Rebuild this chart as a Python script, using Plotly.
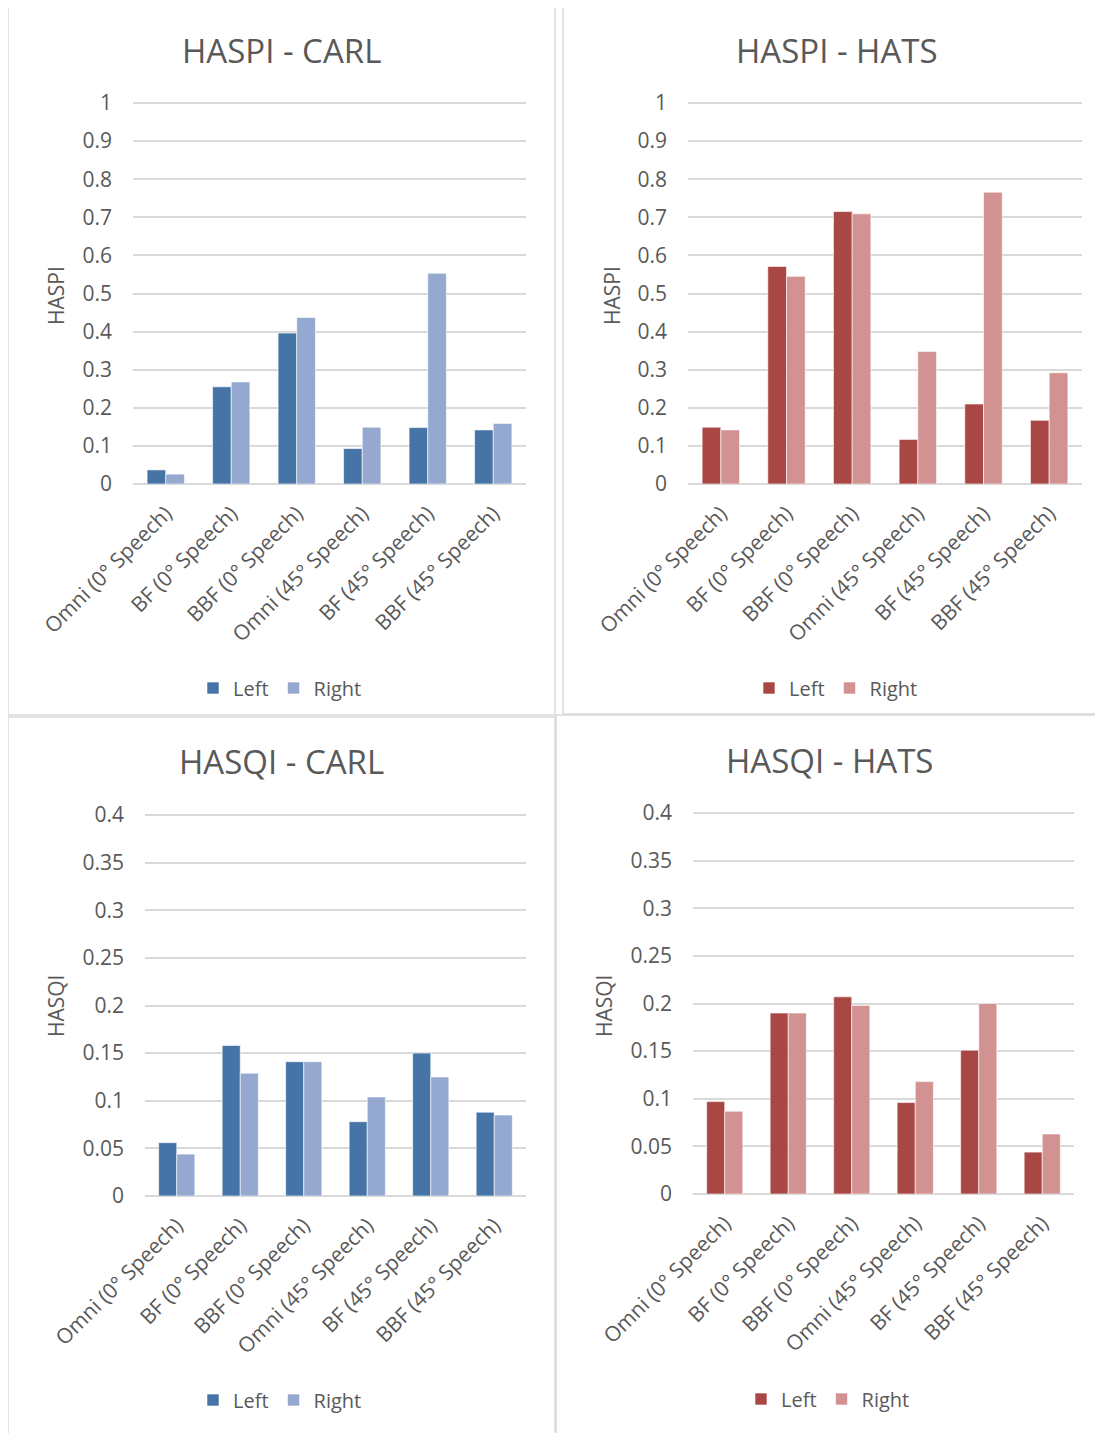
import plotly.graph_objects as go

categories = ["Omni (0° Speech)", "BF (0° Speech)", "BBF (0° Speech)",
              "Omni (45° Speech)", "BF (45° Speech)", "BBF (45° Speech)"]

haspi_carl_left = [0.037, 0.255, 0.396, 0.093, 0.148, 0.142]
haspi_carl_right = [0.026, 0.268, 0.437, 0.149, 0.553, 0.159]
haspi_hats_left = [0.149, 0.571, 0.715, 0.117, 0.210, 0.167]
haspi_hats_right = [0.142, 0.545, 0.709, 0.348, 0.766, 0.292]
hasqi_carl_left = [0.056, 0.158, 0.141, 0.078, 0.150, 0.088]
hasqi_carl_right = [0.044, 0.129, 0.141, 0.104, 0.125, 0.085]
hasqi_hats_left = [0.097, 0.190, 0.207, 0.096, 0.151, 0.044]
hasqi_hats_right = [0.087, 0.190, 0.198, 0.118, 0.200, 0.063]

haspi_ticks = [0, 0.1, 0.2, 0.3, 0.4, 0.5, 0.6, 0.7, 0.8, 0.9, 1]
haspi_ticktext = ["0", "0.1", "0.2", "0.3", "0.4", "0.5", "0.6", "0.7", "0.8", "0.9", "1"]
hasqi_ticks = [0, 0.05, 0.1, 0.15, 0.2, 0.25, 0.3, 0.35, 0.4]
hasqi_ticktext = ["0", "0.05", "0.1", "0.15", "0.2", "0.25", "0.3", "0.35", "0.4"]

BLUE_L, BLUE_R = "#4674a6", "#95a9d0"
RED_L, RED_R = "#a94745", "#d29291"
TXT = "#595959"
GRID = "#d9d9d9"
FONT = "Open Sans"

W, H = 1103, 1433
OFF = 8  # page body margin


def px(x):
    return (x - OFF) / W


def py(y):
    return 1 - (y - OFF) / H


# top of each value axis is extended by a few pixels so the top gridline is drawn
PAD = 4
panels = [
    dict(title="HASPI - CARL", ytitle="HASPI", left=haspi_carl_left, right=haspi_carl_right,
         cl=(BLUE_L, BLUE_R), xd=(133, 526), y0=484, y1=103, vmax=1.0,
         tv=haspi_ticks, tt=haspi_ticktext, tpos=(281, 50), ypos=(56, 296),
         leg=(280, 688), box=(8, 5, 555, 715)),
    dict(title="HASPI - HATS", ytitle="HASPI", left=haspi_hats_left, right=haspi_hats_right,
         cl=(RED_L, RED_R), xd=(688, 1082), y0=484, y1=103, vmax=1.0,
         tv=haspi_ticks, tt=haspi_ticktext, tpos=(837, 50), ypos=(612, 296),
         leg=(836, 688), box=(563, 5, 1112, 714)),
    dict(title="HASQI - CARL", ytitle="HASQI", left=hasqi_carl_left, right=hasqi_carl_right,
         cl=(BLUE_L, BLUE_R), xd=(145, 526), y0=1196, y1=815, vmax=0.4,
         tv=hasqi_ticks, tt=hasqi_ticktext, tpos=(281, 761), ypos=(56, 1006),
         leg=(280, 1400), box=(8, 717, 555, 1445)),
    dict(title="HASQI - HATS", ytitle="HASQI", left=hasqi_hats_left, right=hasqi_hats_right,
         cl=(RED_L, RED_R), xd=(693, 1074), y0=1194, y1=813, vmax=0.4,
         tv=hasqi_ticks, tt=hasqi_ticktext, tpos=(829, 760), ypos=(604, 1006),
         leg=(828, 1399), box=(556, 715, 1112, 1445)),
]

fig = go.Figure()
annotations = []
shapes = []
layout = {}

for i, p in enumerate(panels, start=1):
    xa = "x" if i == 1 else f"x{i}"
    ya = "y" if i == 1 else f"y{i}"
    lg = "legend" if i == 1 else f"legend{i}"
    for name, vals, col in (("Left", p["left"], p["cl"][0]), ("Right", p["right"], p["cl"][1])):
        fig.add_trace(go.Bar(
            x=categories, y=vals, name=name, xaxis=xa, yaxis=ya, legend=lg,
            marker=dict(color=col, line=dict(color="rgba(255,255,255,0.6)", width=1)),
        ))
    xkey = "xaxis" if i == 1 else f"xaxis{i}"
    ykey = "yaxis" if i == 1 else f"yaxis{i}"
    span = p["y0"] - p["y1"]
    rmax = p["vmax"] * (span + PAD) / span
    layout[xkey] = dict(
        domain=[px(p["xd"][0]), px(p["xd"][1])], anchor=ya, automargin=False,
        tickangle=-45, tickfont=dict(family=FONT, size=21, color=TXT), ticklabelstandoff=12,
        showline=False, showgrid=False, ticks="", categoryorder="array",
        categoryarray=categories, fixedrange=True,
    )
    layout[ykey] = dict(
        domain=[py(p["y0"]), py(p["y1"] - PAD)], anchor=xa, range=[0, rmax], automargin=False,
        tickvals=p["tv"], ticktext=p["tt"], showgrid=True, gridcolor=GRID, gridwidth=1.5,
        zeroline=True, zerolinecolor=GRID, zerolinewidth=1.5,
        tickfont=dict(family=FONT, size=21, color=TXT), ticklabelstandoff=20,
        showline=False, ticks="", fixedrange=True,
    )
    layout[lg] = dict(
        orientation="h", x=px(p["leg"][0]), y=py(p["leg"][1]), xanchor="center", yanchor="middle",
        font=dict(family=FONT, size=20, color=TXT), bgcolor="rgba(0,0,0,0)",
        itemwidth=30, tracegroupgap=0,
    )
    annotations.append(dict(
        text=p["title"], x=px(p["tpos"][0]), y=py(p["tpos"][1]), xref="paper", yref="paper",
        xanchor="center", yanchor="middle", showarrow=False,
        font=dict(family=FONT, size=33, color=TXT),
    ))
    annotations.append(dict(
        text=p["ytitle"], x=px(p["ypos"][0]), y=py(p["ypos"][1]), xref="paper", yref="paper",
        xanchor="center", yanchor="middle", showarrow=False, textangle=-90,
        font=dict(family=FONT, size=21, color=TXT),
    ))
    b = p["box"]
    shapes.append(dict(type="rect", xref="paper", yref="paper",
                       x0=px(b[0]), y0=py(b[1]), x1=px(b[2]), y1=py(b[3]),
                       line=dict(color=GRID, width=1.5), fillcolor="rgba(0,0,0,0)", layer="below"))

fig.update_layout(
    width=W, height=H, margin=dict(l=0, r=0, t=0, b=0, pad=0, autoexpand=False),
    paper_bgcolor="white", plot_bgcolor="white",
    barmode="group", bargap=0.43, bargroupgap=0,
    annotations=annotations, shapes=shapes,
    font=dict(family=FONT, color=TXT),
    **layout,
)

fig.write_html("out.html")
